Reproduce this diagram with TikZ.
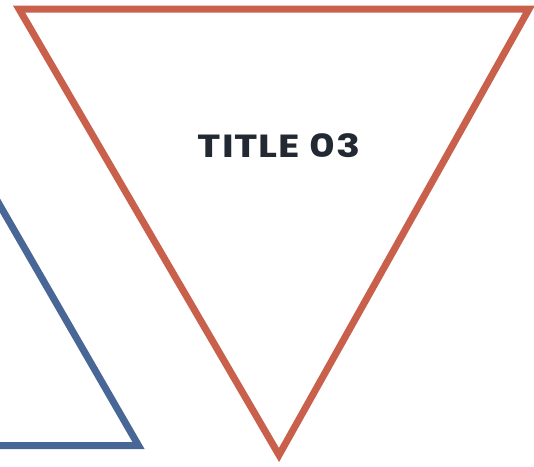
\documentclass[tikz,border=0pt]{standalone}
\usepackage{fontspec}
\setmainfont{Poppins}
\definecolor{redline}{RGB}{200,96,76}
\definecolor{blueline}{RGB}{72,102,150}
\definecolor{titletext}{RGB}{35,41,51}

\begin{document}
\begin{tikzpicture}[x=1pt,y=-1pt]
\tikzset{tri/.style={line width=7pt,miter limit=4}}
\useasboundingbox (0,0) rectangle (534,466);
\clip (0,0) rectangle (534,466);
% red triangle, point down
\coordinate (R1) at (19,9);
\coordinate (R2) at (529,9);
\coordinate (R3) at (279,455);
\draw [tri, redline] (R1) -- (R2) -- (R3) -- cycle;
% blue triangle, cut at the left side
\coordinate (B1) at (138.5,445.5);
\coordinate (B2) at (-161.5,445.5);
\coordinate (B3) at (-11.5,185.7);
\draw [tri, blueline] (B1) -- (B2) -- (B3) -- cycle;
\node [text=titletext, font=\fontsize{32}{32}\bfseries\addfontfeature{LetterSpace=2}] (title) at (279,146) {\scalebox{1.24}[1]{TITLE 03}};
\end{tikzpicture}
\end{document}
